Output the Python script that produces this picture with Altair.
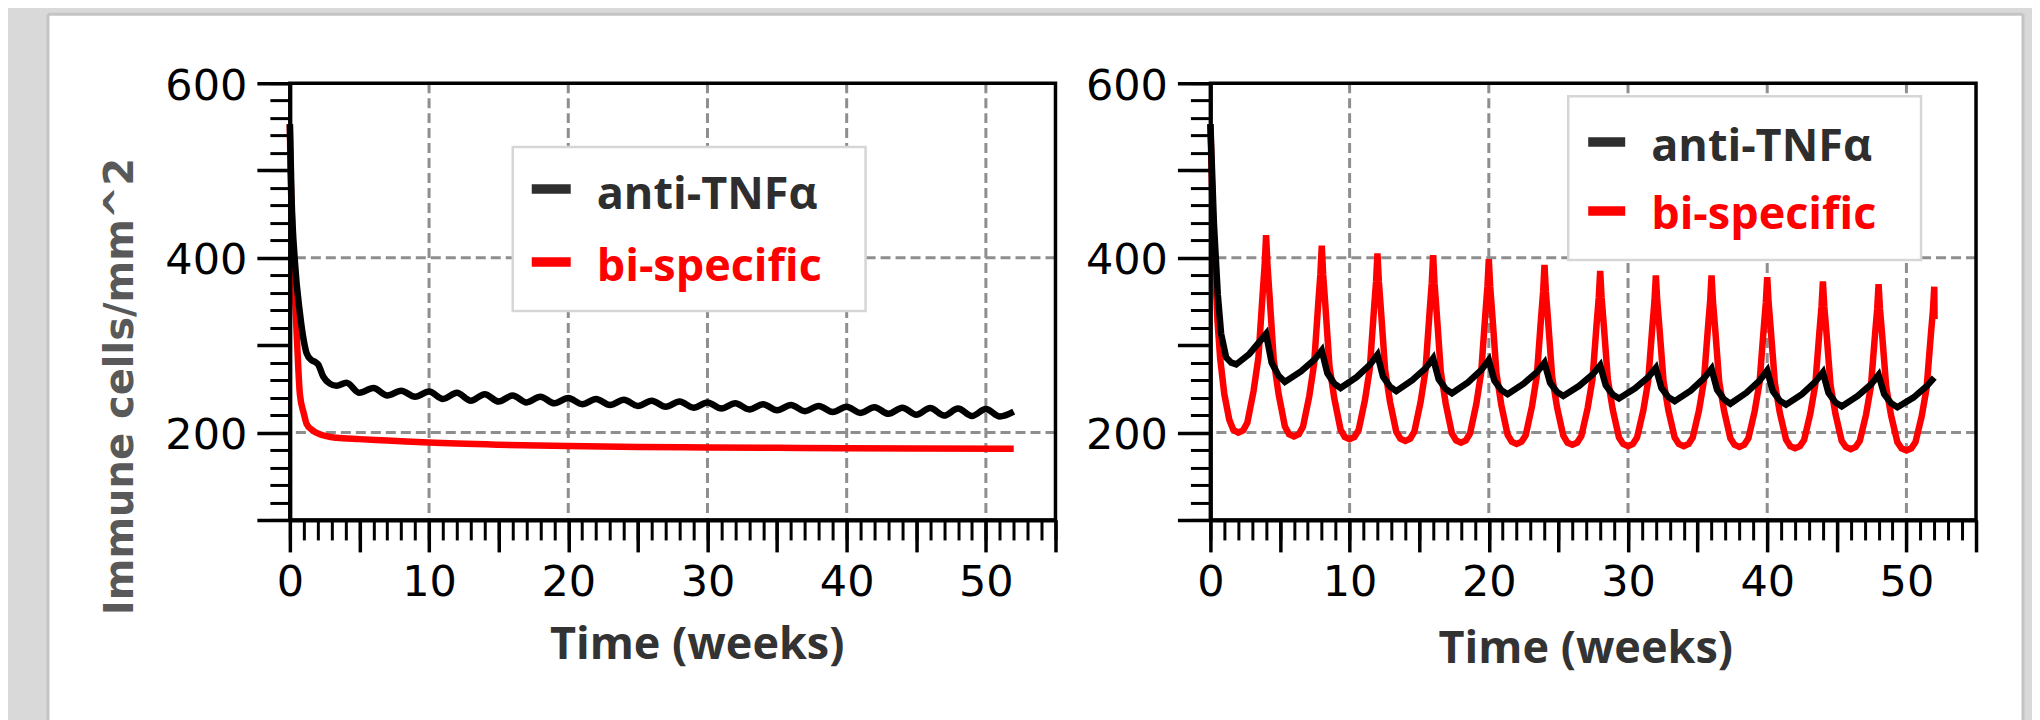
import altair as alt
import pandas as pd

# ---------------- data ----------------
SERIES = ["anti-TNFα", "bi-specific"]
LINE_COLORS = ["#000000", "#ff0000"]
TEXT_COLORS = ["#2e2e2e", "#ff0000"]

X_TITLE = "Time (weeks)"
Y_TITLE = "Immune cells/mm^2"

X_DOMAIN = [0, 55]
Y_DOMAIN = [100, 600]
X_MAJOR = [0, 5, 10, 15, 20, 25, 30, 35, 40, 45, 50, 55]
X_MINOR = list(range(0, 56))
Y_MAJOR = [100, 200, 300, 400, 500, 600]
Y_MINOR = list(range(100, 601, 20))
X_GRID = [10, 20, 30, 40, 50]
Y_GRID = [200, 400]

# left panel, anti-TNFalpha (black)
left_anti_t = [0, 0.12, 0.36, 0.72, 0.96, 1.2, 1.55, 1.8, 2.03, 2.4, 2.87, 3.35, 4.07,
               5, 6, 7, 8, 9, 10, 11, 12, 13, 14, 15, 16, 17, 18, 19, 20, 21, 22, 23, 24,
               25, 26, 27, 28, 29, 30, 31, 32, 33, 34, 35, 36, 37, 38, 39, 40, 41, 42, 43,
               44, 45, 46, 47, 48, 49, 50, 51, 52]
left_anti_v = [553, 470, 396, 337, 309, 291, 283, 281, 278, 264, 256, 253.5, 257,
               245.5, 251, 242.5, 248, 241, 247, 238.5, 245.5, 236.5, 244, 235.5, 242.5,
               234.5, 241, 233.5, 239.5, 232.5, 238.5, 231.5, 237.5, 230.5, 236.5, 229.5,
               235.5, 228.5, 234.5, 227.5, 233.5, 226.5, 232.5, 225.5, 231.5, 224.5, 230.5,
               223.5, 229.5, 222.5, 229, 221.5, 228.5, 220.5, 228, 219.5, 227.5, 219, 227,
               218.5, 224]

# left panel, bi-specific (red)
left_bi_t = [0, 0.05, 0.1, 0.2, 0.36, 0.5, 0.72, 1.0, 1.2, 1.6, 2.15, 3.35, 5, 7, 10,
             15, 20, 25, 30, 35, 40, 45, 52]
left_bi_v = [553, 500, 470, 420, 358, 310, 244, 222, 210, 203, 198, 194, 192.5, 191,
             188.5, 186, 184.5, 183.5, 183, 182.5, 182, 181.7, 181.5]

# right panel, anti-TNFalpha (black)
right_anti_t = [0, 0.25, 0.53, 0.77, 1.13, 1.5, 1.85, 2.8, 4,
                4.4, 4.9, 5.35, 6.5, 7.45, 8,
                8.4, 8.9, 9.35, 10.5, 11.45, 12,
                12.4, 12.9, 13.35, 14.5, 15.45, 16,
                16.4, 16.9, 17.35, 18.5, 19.45, 20,
                20.4, 20.9, 21.35, 22.5, 23.45, 24,
                24.4, 24.9, 25.35, 26.5, 27.45, 28,
                28.4, 28.9, 29.35, 30.5, 31.45, 32,
                32.4, 32.9, 33.35, 34.5, 35.45, 36,
                36.4, 36.9, 37.35, 38.5, 39.45, 40,
                40.4, 40.9, 41.35, 42.5, 43.45, 44,
                44.4, 44.9, 45.35, 46.5, 47.45, 48,
                48.4, 48.9, 49.35, 50.5, 51.45, 52]
right_anti_v = [553, 440, 358, 313, 286, 280, 278, 290, 313,
                280, 265, 258, 270, 283, 294,
                268, 256, 251, 263.5, 277.5, 289,
                264, 252.5, 247.5, 260, 273.5, 285,
                261, 250, 245, 257.5, 271.5, 283,
                259.5, 248.5, 244, 256, 269, 280,
                257, 246.5, 242, 253.5, 266.5, 277,
                254, 243.5, 239, 250.5, 263.5, 274,
                251, 240.5, 236, 248, 262, 273,
                249, 238, 233, 245.5, 259.5, 271,
                247.5, 236.5, 232, 244, 258, 269,
                245.5, 234.5, 230, 242, 255, 266,
                244, 233.5, 229, 240, 253, 263]

# right panel, bi-specific (red)
right_bi_t = [0, 0.15, 0.3, 0.5, 0.7, 1.0, 1.35, 1.65, 2, 2.35,
              2.65, 3.1, 3.45, 3.75, 3.9, 4, 4.1, 4.25, 4.55, 4.9, 5.35, 5.65, 6, 6.35,
              6.65, 7.1, 7.45, 7.75, 7.9, 8, 8.1, 8.25, 8.55, 8.9, 9.35, 9.65, 10, 10.35,
              10.65, 11.1, 11.45, 11.75, 11.9, 12, 12.1, 12.25, 12.55, 12.9, 13.35, 13.65, 14, 14.35,
              14.65, 15.1, 15.45, 15.75, 15.9, 16, 16.1, 16.25, 16.55, 16.9, 17.35, 17.65, 18, 18.35,
              18.65, 19.1, 19.45, 19.75, 19.9, 20, 20.1, 20.25, 20.55, 20.9, 21.35, 21.65, 22, 22.35,
              22.65, 23.1, 23.45, 23.75, 23.9, 24, 24.1, 24.25, 24.55, 24.9, 25.35, 25.65, 26, 26.35,
              26.65, 27.1, 27.45, 27.75, 27.9, 28, 28.1, 28.25, 28.55, 28.9, 29.35, 29.65, 30, 30.35,
              30.65, 31.1, 31.45, 31.75, 31.9, 32, 32.1, 32.25, 32.55, 32.9, 33.35, 33.65, 34, 34.35,
              34.65, 35.1, 35.45, 35.75, 35.9, 36, 36.1, 36.25, 36.55, 36.9, 37.35, 37.65, 38, 38.35,
              38.65, 39.1, 39.45, 39.75, 39.9, 40, 40.1, 40.25, 40.55, 40.9, 41.35, 41.65, 42, 42.35,
              42.65, 43.1, 43.45, 43.75, 43.9, 44, 44.1, 44.25, 44.55, 44.9, 45.35, 45.65, 46, 46.35,
              46.65, 47.1, 47.45, 47.75, 47.9, 48, 48.1, 48.25, 48.55, 48.9, 49.35, 49.65, 50, 50.35,
              50.65, 51.1, 51.45, 51.75, 51.9, 52, 52.02]
right_bi_v = [553, 460, 400, 330, 285, 244, 215, 203, 200, 202.5,
              211, 247.5, 286, 358, 392, 426, 391.5, 356.5, 283, 244, 207, 198, 195.5, 198,
              206.5, 241.5, 278.5, 348.5, 381, 414, 381, 347.5, 276.5, 239, 203.5, 195, 192.5, 195,
              203, 237, 273, 341, 373, 405, 373, 340.5, 272, 235.5, 201, 193, 190.5, 193,
              201, 235, 271, 339, 371, 403, 371, 338.5, 270, 233.5, 199, 191, 188.5, 191,
              199, 232.5, 268.5, 335.5, 367, 398.5, 367, 335, 267.5, 231.5, 197.5, 189.5, 187, 189.5,
              197, 230, 265, 330.5, 361, 392, 361, 330, 264, 229, 196.5, 188.5, 186, 188.5,
              196, 228, 261.5, 325.5, 355, 385, 355, 325, 261, 226.5, 194.5, 187, 184.5, 187,
              194.5, 225.5, 259, 321.5, 350.5, 380, 350.5, 321.5, 259, 225.5, 194.5, 187, 184.5, 187,
              194.5, 225.5, 259, 321.5, 350.5, 380, 350.5, 321, 258, 225, 193.5, 186, 183.5, 186,
              193.5, 224.5, 257.5, 319.5, 349, 378, 348.5, 319, 256.5, 223, 192, 184.5, 182, 184.5,
              191.5, 222, 254.5, 315.5, 344, 373, 344, 315.5, 254, 221.5, 190.5, 183.5, 181, 183.5,
              190.5, 220.5, 253, 313.5, 341.5, 370, 341.5, 313, 252, 219.5, 189, 182, 179.5, 182,
              189, 219, 251, 311, 339, 367, 330]

# ---------------- layout / style ----------------
W, H = 766, 437
ONE = pd.DataFrame({"k": [0]})
GRID = dict(color="#8e8e8e", strokeWidth=3, strokeDash=[10, 5])
TICK_FONT = "DejaVu Sans"
TITLE_FONT = "Open Sans"
LINE_W = 6.5
PANEL_BORDER = "#c4c4c4"
PANEL_BOTTOM = 642


def make_panel(anti_t, anti_v, bi_t, bi_v, interp, legend, show_ytitle,
               xtitle_x, xtitle_y, background):
    xs = alt.Scale(domain=X_DOMAIN, nice=False, zero=False)
    ys = alt.Scale(domain=Y_DOMAIN, nice=False, zero=False)

    x_major = alt.Axis(
        orient="bottom", values=X_MAJOR, tickSize=32, tickWidth=3.5, tickColor="black",
        domain=True, domainColor="black", domainWidth=4,
        labelExpr="datum.value % 10 == 0 ? datum.label : ''",
        labelFont=TICK_FONT, labelFontSize=43, labelColor="black", labelPadding=10,
        labelFlush=False, labelOverlap=False, grid=False,
        title=X_TITLE, titleFont=TITLE_FONT, titleFontWeight="bold", titleFontSize=45,
        titleColor="#333333", titleX=xtitle_x, titleY=xtitle_y,
        titleBaseline="alphabetic", titleAlign="center", zindex=1)
    x_minor = alt.Axis(
        orient="bottom", values=X_MINOR, tickSize=20, tickWidth=3, tickColor="black",
        domain=False, labels=False, grid=False, title=None, zindex=1)
    y_kw = dict(
        orient="left", values=Y_MAJOR, tickSize=33, tickWidth=3.5, tickColor="black",
        domain=True, domainColor="black", domainWidth=4,
        labelExpr="datum.value % 200 == 0 ? datum.label : ''",
        labelFont=TICK_FONT, labelFontSize=43, labelColor="black", labelPadding=10,
        labelFlush=False, labelOverlap=False, labelOffset=3, grid=False, zindex=1)
    if show_ytitle:
        y_major = alt.Axis(
            title=Y_TITLE, titleFont="DejaVu Sans", titleFontWeight="bold",
            titleFontSize=40, titleColor="#595959", titleX=-157, titleY=303,
            titleAngle=-90, titleBaseline="alphabetic", titleAlign="center", **y_kw)
    else:
        y_major = alt.Axis(title=None, **y_kw)
    y_minor = alt.Axis(
        orient="left", values=Y_MINOR, tickSize=20, tickWidth=3, tickColor="black",
        domain=False, labels=False, grid=False, title=None, zindex=1)

    layers = []
    if background:
        # white page panel with a grey edge on the left, top and right
        layers.append(alt.Chart(ONE).mark_rect(fill="white", strokeWidth=0).encode(
            x=alt.value(-242), x2=alt.value(1734), y=alt.value(-69), y2=alt.value(PANEL_BOTTOM)))
        layers.append(alt.Chart(ONE).mark_rule(color=PANEL_BORDER, strokeWidth=3).encode(
            x=alt.value(-242), y=alt.value(-69), y2=alt.value(PANEL_BOTTOM)))
        layers.append(alt.Chart(ONE).mark_rule(color=PANEL_BORDER, strokeWidth=3).encode(
            x=alt.value(1734), y=alt.value(-69), y2=alt.value(PANEL_BOTTOM)))
        layers.append(alt.Chart(ONE).mark_rule(color=PANEL_BORDER, strokeWidth=3).encode(
            x=alt.value(-242), x2=alt.value(1734), y=alt.value(-69)))

    layers.append(alt.Chart(pd.DataFrame({"gx": X_GRID})).mark_rule(**GRID).encode(
        x=alt.X("gx:Q", scale=xs, axis=x_major)))
    layers.append(alt.Chart(pd.DataFrame({"gy": Y_GRID})).mark_rule(**GRID).encode(
        y=alt.Y("gy:Q", scale=ys, axis=y_major)))

    bx0, by0, bx1, by1 = legend["box"]
    layers.append(alt.Chart(ONE).mark_rect(fill="white", stroke="#d6d6d6", strokeWidth=2.5).encode(
        x=alt.value(bx0), x2=alt.value(bx1), y=alt.value(by0), y2=alt.value(by1)))

    bi = pd.DataFrame({"t": bi_t, "v": bi_v})
    anti = pd.DataFrame({"t": anti_t, "v": anti_v})
    layers.append(alt.Chart(bi).mark_line(color=LINE_COLORS[1], strokeWidth=LINE_W, interpolate=interp).encode(
        x=alt.X("t:Q", scale=xs, axis=x_minor), y=alt.Y("v:Q", scale=ys, axis=y_minor)))
    layers.append(alt.Chart(anti).mark_line(color=LINE_COLORS[0], strokeWidth=LINE_W, interpolate=interp).encode(
        x=alt.X("t:Q", scale=xs, axis=None), y=alt.Y("v:Q", scale=ys, axis=None)))

    # plot frame
    layers.append(alt.Chart(ONE).mark_rect(fillOpacity=0, stroke="black", strokeWidth=3.5).encode(
        x=alt.value(0), x2=alt.value(W), y=alt.value(0), y2=alt.value(H)))

    sx0, sx1 = legend["sym_x"]
    for i, name in enumerate(SERIES):
        layers.append(alt.Chart(ONE).mark_rule(color=TEXT_COLORS[i], strokeWidth=9.5).encode(
            x=alt.value(sx0), x2=alt.value(sx1), y=alt.value(legend["sym_y"][i])))
        layers.append(alt.Chart(ONE).mark_text(
            align="left", baseline="alphabetic", font=TITLE_FONT, fontWeight="bold",
            fontSize=45, color=TEXT_COLORS[i]).encode(
            x=alt.value(legend["lab_x"]), y=alt.value(legend["lab_y"][i]), text=alt.value(name)))

    return alt.layer(*layers).resolve_axis(x="independent", y="independent").properties(
        width=W, height=H)


left = make_panel(
    left_anti_t, left_anti_v, left_bi_t, left_bi_v, "monotone",
    dict(box=(223, 64, 576, 228), sym_x=(242, 281), sym_y=(106, 179), lab_x=307, lab_y=(126, 198)),
    True, 407, 139, True)
right = make_panel(
    right_anti_t, right_anti_v, right_bi_t, right_bi_v, "linear",
    dict(box=(358, 13, 711, 177), sym_x=(378, 415), sym_y=(59, 128), lab_x=441, lab_y=(78, 146)),
    False, 375, 143, False)

chart = alt.hconcat(left, right, spacing=155, bounds="flush").properties(
    background="#d9d9d9",
    padding={"left": 38, "top": 4, "right": 7, "bottom": 0},
).configure_view(stroke=None)

chart.save("out.html", embed_options={"renderer": "svg", "actions": False})
